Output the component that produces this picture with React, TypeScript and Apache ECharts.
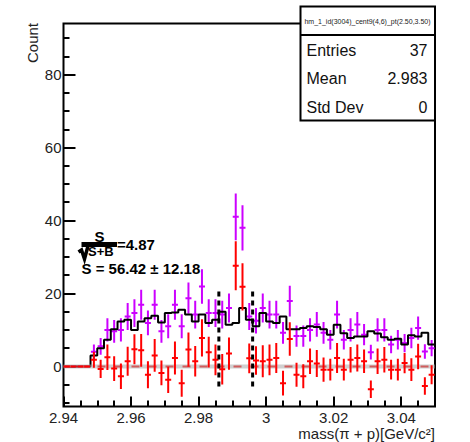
import React, { useEffect, useRef } from 'react';
import * as echarts from 'echarts';

const FONT = '"Liberation Sans", Arial, Helvetica, sans-serif';
const MAGENTA = '#cc00ff';
const RED = '#ff0000';

// histogram binning
const X_MIN = 2.94;
const X_MAX = 3.05;
const BIN_WIDTH = 0.002;
const Y_MIN = -11;
const Y_MAX = 94;

// axis ticks
const X_MAJOR = [2.94, 2.96, 2.98, 3.0, 3.02, 3.04];
const X_MINOR = [2.945, 2.95, 2.955, 2.965, 2.97, 2.975, 2.985, 2.99, 2.995, 3.005, 3.01, 3.015, 3.025, 3.03, 3.035, 3.045];
const Y_MAJOR = [0, 20, 40, 60, 80];
const Y_MINOR = [-10, -5, 5, 10, 15, 25, 30, 35, 45, 50, 55, 65, 70, 75, 85, 90];

// total counts (magenta) per bin
const totalCounts = [
  0, 0, 0, 0, 4, 5.5, 10, 9.6, 10, 13.7,
  14.6, 16.9, 11.9, 16.9, 9.6, 11, 16.9, 11, 18.7, 14.2,
  21.9, 14.6, 14.6, 14.2, 16, 41, 38, 13.7, 12.5, 16,
  14.2, 14.2, 9.2, 17.9, 8.3, 8.3, 10, 11.5, 9.2, 7.3,
  14.2, 7.3, 10, 11.5, 8.7, 3.9, 10, 10, 6, 7.3,
  6.4, 7.8, 10.5, 4.1, 5,
];
const totalErrors = [
  0, 0, 0, 0, 2, 2.3, 3.2, 3.1, 3.2, 3.7,
  3.8, 4.1, 3.4, 4.1, 3.1, 3.3, 4.1, 3.3, 4.3, 3.8,
  4.7, 3.8, 3.8, 3.8, 4, 6.4, 6.2, 3.7, 3.5, 4,
  3.8, 3.8, 3, 4.2, 2.9, 2.9, 3.2, 3.4, 3, 2.7,
  3.8, 2.7, 3.2, 3.4, 2.9, 2, 3.2, 3.2, 2.4, 2.7,
  2.5, 2.8, 3.2, 2, 2.2,
];

// background estimate (black histogram)
const backgroundCounts = [
  0, 0, 0, 0, 3, 5, 7.3, 10.2, 12.3, 12.8,
  10, 12.3, 13.2, 13.9, 12, 14.6, 14.8, 15.5, 14.2, 12.3,
  14.2, 11.9, 12.8, 15, 11.4, 11.9, 16, 12.8, 11, 14.6,
  12.3, 11.9, 13.7, 10.2, 10.2, 10.5, 11, 10.8, 10.2, 8.7,
  11.4, 9.1, 7.8, 8.2, 8.2, 9.6, 9, 8, 7.3, 7.6,
  6, 8.5, 8.2, 9.2, 6,
];

// background-subtracted counts (red)
const signalCounts = [
  0, 0, 0, 0, 1.8, -0.7, 2.5, -0.6, -2.7, 1.4,
  4.7, 4.4, -2.3, 3, -1.8, -3.7, 2.3, -4.6, 4.6, 1.4,
  7.8, 3.9, 1.8, -0.8, 3.5, 27.6, 21.8, 2.2, 1.6, 1.4,
  1.8, 2.3, -4.6, 7.5, -2.3, -2.7, 1.4, 0.8, -0.9, -0.9,
  2.3, -0.9, 1.8, 2.3, 1.4, -6.3, 1.4, 1.8, -0.9, -0.9,
  0.9, -0.9, 2.7, -5.4, -2.3,
];
const signalErrors = [
  0, 0, 0, 0, 2.2, 2.5, 3.5, 3.4, 3.5, 4,
  4.1, 4.5, 3.7, 4.5, 3.4, 3.6, 4.5, 3.7, 4.7, 4.2,
  5.1, 4.2, 4.2, 4.2, 4.4, 6.7, 6.5, 4.1, 3.9, 4.4,
  4.2, 4.1, 3.4, 4.6, 3.3, 3.3, 3.5, 3.7, 3.3, 3,
  4.1, 3, 3.5, 3.7, 3.2, 2.4, 3.5, 3.5, 2.7, 3,
  2.8, 3.1, 3.5, 2.4, 2.6,
];

// signal window
const WINDOW_X = [2.986, 2.996];
const WINDOW_Y = [-5.5, 21.3];

const STATS_TITLE = 'hm_1_id(3004)_cent9(4,6)_pt(2.50,3.50)';
const STATS_ROWS: [string, string][] = [
  ['Entries', '37'],
  ['Mean', '2.983'],
  ['Std Dev', '0'],
];

const binCenter = (i: number) => X_MIN + BIN_WIDTH * (i + 0.5);

function errorBarSeries(values: number[], errors: number[], color: string, z: number) {
  return {
    type: 'custom',
    z,
    silent: true,
    clip: true,
    data: values.map((v, i) => [binCenter(i), v, errors[i]]),
    renderItem: (params: any, api: any) => {
      const x = api.value(0);
      const y = api.value(1);
      const e = api.value(2);
      const c = api.coord([x, y]);
      const top = api.coord([x, y + e]);
      const bot = api.coord([x, y - e]);
      return {
        type: 'group',
        children: [
          {
            type: 'line',
            shape: { x1: c[0], y1: top[1], x2: c[0], y2: bot[1] },
            style: { stroke: color, lineWidth: 2 },
          },
          {
            type: 'line',
            shape: { x1: c[0] - 3, y1: c[1], x2: c[0] + 3, y2: c[1] },
            style: { stroke: color, lineWidth: 2 },
          },
        ],
      };
    },
  };
}

const fmtX = (v: number) => String(Math.round(v * 1000) / 1000);

export default function App() {
  const ref = useRef<HTMLDivElement>(null);
  useEffect(() => {
    const chart = echarts.init(ref.current!, null, { renderer: 'svg' });
    const stepData: number[][] = backgroundCounts.map((v, i) => [X_MIN + BIN_WIDTH * i, v]);
    stepData.push([X_MAX, backgroundCounts[backgroundCounts.length - 1]]);

    const tickStyle = { color: '#000', width: 2 };
    const labelStyle = { color: '#222', fontSize: 15, fontFamily: FONT };

    const option: any = {
      animation: false,
      grid: {
        left: 63.5,
        top: 23.5,
        width: 371.5,
        height: 383,
        show: true,
        borderColor: '#000',
        borderWidth: 2,
        backgroundColor: 'transparent',
      },
      xAxis: [
        {
          type: 'value',
          min: X_MIN,
          max: X_MAX,
          position: 'bottom',
          axisLine: { show: false, onZero: false },
          splitLine: { show: false },
          axisTick: { show: true, inside: true, length: 10, lineStyle: tickStyle, customValues: X_MAJOR },
          axisLabel: { ...labelStyle, margin: 3, customValues: X_MAJOR, formatter: fmtX },
        },
        {
          type: 'value',
          min: X_MIN,
          max: X_MAX,
          position: 'bottom',
          offset: 0,
          axisLine: { show: false, onZero: false },
          splitLine: { show: false },
          axisTick: { show: true, inside: true, length: 6, lineStyle: tickStyle, customValues: X_MINOR },
          axisLabel: { show: false },
        },
      ],
      yAxis: [
        {
          type: 'value',
          min: Y_MIN,
          max: Y_MAX,
          position: 'left',
          axisLine: { show: false, onZero: false },
          splitLine: { show: false },
          axisTick: { show: true, inside: true, length: 12, lineStyle: tickStyle, customValues: Y_MAJOR },
          axisLabel: { ...labelStyle, margin: 2, customValues: Y_MAJOR },
        },
        {
          type: 'value',
          min: Y_MIN,
          max: Y_MAX,
          position: 'left',
          offset: 0,
          axisLine: { show: false, onZero: false },
          splitLine: { show: false },
          axisTick: { show: true, inside: true, length: 6, lineStyle: tickStyle, customValues: Y_MINOR },
          axisLabel: { show: false },
        },
      ],
      series: [
        errorBarSeries(totalCounts, totalErrors, MAGENTA, 2),
        {
          type: 'line',
          step: 'end',
          z: 3,
          silent: true,
          symbol: 'none',
          data: stepData,
          lineStyle: { color: '#000', width: 2 },
        },
        {
          type: 'line',
          z: 4,
          silent: true,
          symbol: 'none',
          data: [[X_MIN, 0], [X_MAX, 0]],
          lineStyle: { color: RED, width: 2, type: [8, 9] },
        },
        {
          type: 'line',
          z: 5,
          silent: true,
          symbol: 'none',
          data: [[X_MIN, 0], [X_MAX, 0]],
          lineStyle: { color: 'rgba(170,170,170,0.55)', width: 4 },
        },
        errorBarSeries(signalCounts, signalErrors, RED, 6),
        ...WINDOW_X.map((wx) => ({
          type: 'line',
          z: 7,
          silent: true,
          symbol: 'none',
          data: [[wx, WINDOW_Y[0]], [wx, WINDOW_Y[1]]],
          lineStyle: { color: '#000', width: 3, type: [5, 4] },
        })),
      ],
      graphic: [
        // axis titles
        {
          type: 'text',
          x: 32.5,
          y: 43,
          rotation: Math.PI / 2,
          style: { text: 'Count', fontSize: 15, fontFamily: FONT, fill: '#222', align: 'center', verticalAlign: 'middle' },
        },
        {
          type: 'text',
          x: 435,
          y: 433,
          style: { text: 'mass(π + p)[GeV/c²]', fontSize: 15, fontFamily: FONT, fill: '#222', align: 'right', verticalAlign: 'middle' },
        },
        // significance annotation
        {
          type: 'text',
          x: 99.5,
          y: 236,
          style: { text: 'S', fontSize: 15, fontWeight: 'bold', fontFamily: FONT, fill: '#000', align: 'center', verticalAlign: 'middle' },
        },
        { type: 'rect', shape: { x: 81.5, y: 242, width: 35.5, height: 5 }, style: { fill: '#000' } },
        {
          type: 'text',
          x: 117,
          y: 244,
          style: { text: '=4.87', fontSize: 15, fontWeight: 'bold', fontFamily: FONT, fill: '#000', align: 'left', verticalAlign: 'middle' },
        },
        {
          type: 'polyline',
          shape: { points: [[78.5, 252], [81.5, 250], [84.5, 259], [88, 246]] },
          style: { stroke: '#000', lineWidth: 3.5, fill: null },
        },
        {
          type: 'text',
          x: 88,
          y: 251.5,
          style: { text: 'S+B', fontSize: 13, fontWeight: 'bold', fontFamily: FONT, fill: '#000', align: 'left', verticalAlign: 'middle' },
        },
        {
          type: 'text',
          x: 81.5,
          y: 268,
          style: { text: 'S = 56.42 ± 12.18', fontSize: 15, fontWeight: 'bold', fontFamily: FONT, fill: '#000', align: 'left', verticalAlign: 'middle' },
        },
        // stats box
        {
          type: 'rect',
          shape: { x: 300.5, y: 6.5, width: 134.5, height: 114 },
          style: { fill: '#fff', stroke: '#000', lineWidth: 2 },
        },
        {
          type: 'line',
          shape: { x1: 300.5, y1: 35, x2: 435, y2: 35 },
          style: { stroke: '#000', lineWidth: 2 },
        },
        {
          type: 'text',
          x: 367.5,
          y: 21,
          style: { text: STATS_TITLE, fontSize: 7, fontFamily: FONT, fill: '#222', align: 'center', verticalAlign: 'middle' },
        },
        ...STATS_ROWS.flatMap(([k, v], i) => [
          {
            type: 'text',
            x: 306.5,
            y: 50 + i * 28.7,
            style: { text: k, fontSize: 16, fontFamily: FONT, fill: '#111', align: 'left', verticalAlign: 'middle' },
          },
          {
            type: 'text',
            x: 427.5,
            y: 50 + i * 28.7,
            style: { text: v, fontSize: 16, fontFamily: FONT, fill: '#111', align: 'right', verticalAlign: 'middle' },
          },
        ]),
      ],
    };
    chart.setOption(option);
    return () => chart.dispose();
  }, []);
  return <div ref={ref} style={{ position: 'absolute', left: 0, top: 0, width: 470, height: 442 }} />;
}
